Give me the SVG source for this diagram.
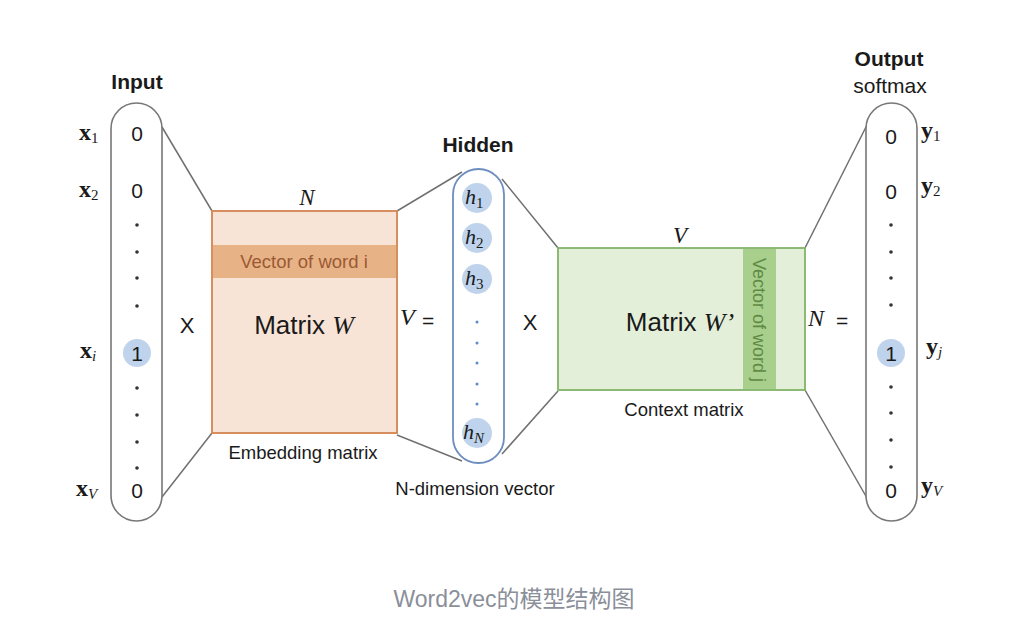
<svg xmlns="http://www.w3.org/2000/svg" width="1018" height="639" viewBox="0 0 1018 639">
<style>
.s{font-family:"Liberation Sans",Arial,sans-serif;fill:#1a1a1a}
.m{font-family:"Liberation Serif","Times New Roman",serif;fill:#1a1a1a}
.b{font-weight:bold}
.pill{fill:#fff;stroke:#777;stroke-width:1.6}
.con{stroke:#707070;stroke-width:1.5;fill:none}
.dot{fill:#333}
.bd{fill:#5b8ccc}
.hc{fill:#bfd4ec}
.v{font-size:21px;text-anchor:middle}
.lab{font-size:24px}
.sub{font-size:15px}
</style>
<rect width="1018" height="639" fill="#fff"/>
<g id="connectors">
<line class="con" x1="162" y1="127" x2="212" y2="211"/>
<line class="con" x1="162" y1="497" x2="212" y2="433"/>
<line class="con" x1="397" y1="211" x2="462" y2="172"/>
<line class="con" x1="397" y1="435" x2="462" y2="461"/>
<line class="con" x1="502" y1="179" x2="558" y2="248"/>
<line class="con" x1="502" y1="454" x2="558" y2="391"/>
<line class="con" x1="805" y1="248" x2="867" y2="125"/>
<line class="con" x1="805" y1="390" x2="867" y2="498"/>
</g>
<g id="input">
<text class="s b" x="137" y="89" font-size="21" text-anchor="middle">Input</text>
<rect class="pill" x="111" y="103" width="51" height="418" rx="25.5"/>
<text class="s v" x="137" y="141">0</text>
<text class="s v" x="137" y="198">0</text>
<circle class="dot" cx="137" cy="225" r="1.8"/>
<circle class="dot" cx="137" cy="252" r="1.8"/>
<circle class="dot" cx="137" cy="278" r="1.8"/>
<circle class="dot" cx="137" cy="306" r="1.8"/>
<circle class="hc" cx="137" cy="353" r="14"/>
<text class="s v" x="137" y="361">1</text>
<circle class="dot" cx="137" cy="388" r="1.8"/>
<circle class="dot" cx="137" cy="415" r="1.8"/>
<circle class="dot" cx="137" cy="442" r="1.8"/>
<circle class="dot" cx="137" cy="468" r="1.8"/>
<text class="s v" x="137" y="498">0</text>
<text class="m lab" x="79" y="140"><tspan class="b">x</tspan><tspan class="sub" dy="3">1</tspan></text>
<text class="m lab" x="79" y="197"><tspan class="b">x</tspan><tspan class="sub" dy="3">2</tspan></text>
<text class="m lab" x="80" y="358"><tspan class="b">x</tspan><tspan class="sub" dy="3" font-style="italic">i</tspan></text>
<text class="m lab" x="76" y="496"><tspan class="b">x</tspan><tspan class="sub" dy="3" font-style="italic">V</tspan></text>
</g>
<g id="times1"><text class="s" x="187" y="333" font-size="22" text-anchor="middle">X</text></g>
<g id="matrixW">
<rect x="212" y="211" width="185" height="222" fill="#f8e4d6" stroke="#d4834f" stroke-width="1.8"/>
<rect x="213" y="245" width="183" height="33" fill="#e8b287"/>
<text class="s" x="304" y="268" font-size="18.5" text-anchor="middle" style="fill:#9a5a33">Vector of word i</text>
<text class="s" x="304" y="334" font-size="26" text-anchor="middle">Matrix <tspan class="m" font-style="italic" font-size="26">W</tspan></text>
<text class="m" x="307" y="205" font-size="23" font-style="italic" text-anchor="middle">N</text>
<text class="s" x="303" y="459" font-size="18.5" text-anchor="middle">Embedding matrix</text>
</g>
<g id="eq1">
<text class="m" x="400" y="325" font-size="24" font-style="italic">V</text>
<text class="s" x="422" y="328" font-size="21">=</text>
</g>
<g id="hidden">
<text class="s b" x="478" y="152" font-size="21" text-anchor="middle">Hidden</text>
<rect x="453" y="169" width="51" height="294" rx="25.5" fill="#fff" stroke="#6c8ebf" stroke-width="1.8"/>
<circle class="hc" cx="477" cy="198" r="15"/>
<circle class="hc" cx="477" cy="238" r="15"/>
<circle class="hc" cx="477" cy="279" r="15"/>
<circle class="hc" cx="477" cy="433" r="15"/>
<text class="m" x="465" y="204" font-size="22" font-style="italic">h<tspan font-size="15" font-style="normal" dy="4">1</tspan></text>
<text class="m" x="465" y="244" font-size="22" font-style="italic">h<tspan font-size="15" font-style="normal" dy="4">2</tspan></text>
<text class="m" x="465" y="285" font-size="22" font-style="italic">h<tspan font-size="15" font-style="normal" dy="4">3</tspan></text>
<text class="m" x="463" y="439" font-size="22" font-style="italic">h<tspan font-size="15" dy="4">N</tspan></text>
<circle class="bd" cx="477" cy="322" r="1.5"/>
<circle class="bd" cx="477" cy="343" r="1.5"/>
<circle class="bd" cx="477" cy="363" r="1.5"/>
<circle class="bd" cx="477" cy="384" r="1.5"/>
<circle class="bd" cx="477" cy="404" r="1.5"/>
<text class="s" x="475" y="495" font-size="18.5" text-anchor="middle">N-dimension vector</text>
</g>
<g id="times2"><text class="s" x="530" y="330" font-size="22" text-anchor="middle">X</text></g>
<g id="matrixW2">
<rect x="558" y="248" width="247" height="142" fill="#e3efd9" stroke="#82b366" stroke-width="1.8"/>
<rect x="743" y="249" width="33" height="140" fill="#a9cf8c"/>
<text class="s" x="0" y="0" font-size="18" text-anchor="middle" transform="translate(753 320) rotate(90)" style="fill:#5f8a45">Vector of word j</text>
<text class="s" x="680" y="331" font-size="26" text-anchor="middle">Matrix <tspan class="m" font-style="italic" font-size="26">W’</tspan></text>
<text class="m" x="680" y="243" font-size="23" font-style="italic" text-anchor="middle">V</text>
<text class="s" x="684" y="416" font-size="18.5" text-anchor="middle">Context matrix</text>
</g>
<g id="eq2">
<text class="m" x="808" y="326" font-size="24" font-style="italic">N</text>
<text class="s" x="836" y="328" font-size="21">=</text>
</g>
<g id="output">
<text class="s b" x="889" y="66" font-size="21" text-anchor="middle">Output</text>
<text class="s" x="890" y="93" font-size="21" text-anchor="middle">softmax</text>
<rect class="pill" x="866" y="103" width="51" height="418" rx="25.5"/>
<text class="s v" x="891" y="144">0</text>
<text class="s v" x="891" y="199">0</text>
<circle class="dot" cx="891" cy="225" r="1.8"/>
<circle class="dot" cx="891" cy="252" r="1.8"/>
<circle class="dot" cx="891" cy="278" r="1.8"/>
<circle class="dot" cx="891" cy="305" r="1.8"/>
<circle class="hc" cx="891" cy="353" r="14"/>
<text class="s v" x="891" y="361">1</text>
<circle class="dot" cx="891" cy="387" r="1.8"/>
<circle class="dot" cx="891" cy="413" r="1.8"/>
<circle class="dot" cx="891" cy="440" r="1.8"/>
<circle class="dot" cx="891" cy="467" r="1.8"/>
<text class="s v" x="891" y="498">0</text>
<text class="m lab" x="921" y="138"><tspan class="b">y</tspan><tspan class="sub" dy="3">1</tspan></text>
<text class="m lab" x="921" y="193"><tspan class="b">y</tspan><tspan class="sub" dy="3">2</tspan></text>
<text class="m lab" x="926" y="354"><tspan class="b">y</tspan><tspan class="sub" dy="3" font-style="italic">j</tspan></text>
<text class="m lab" x="921" y="493"><tspan class="b">y</tspan><tspan class="sub" dy="3" font-style="italic">V</tspan></text>
</g>
<g id="caption">
<text x="514" y="607" font-size="23" text-anchor="middle" fill="#8a8f99" font-family="'Liberation Sans','Noto Sans CJK SC',sans-serif">Word2vec的模型结构图</text>
</g>
</svg>
